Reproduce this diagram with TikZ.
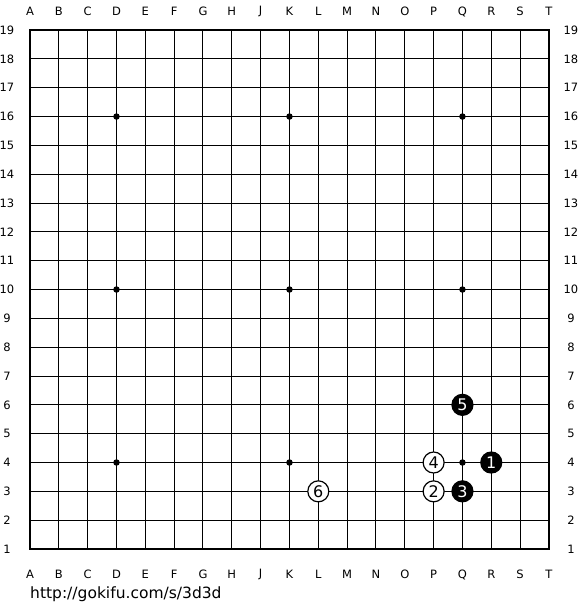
\documentclass[tikz,border=0pt]{standalone}
\usepackage{fontspec}
\setmainfont{DejaVu Sans}
\begin{document}
\begin{tikzpicture}[x=1pt,y=1pt]

\def\sz{28.83}
\tikzstyle{black stone} = [
	circle, draw=black, line width=1.2pt, fill=black, text=white,
	minimum size=21pt, inner sep=0pt, font=\fontsize{16}{16}\selectfont ];
\tikzstyle{white stone} = [black stone, fill=white, text=black];
\tikzstyle{coord} = [inner sep=0pt, font=\fontsize{11.5}{12}\selectfont];
\tikzstyle{hoshi} = [circle, fill=black, minimum size=6.5pt, inner sep=0pt];
\useasboundingbox (0,0) rectangle (580,610);

\begin{scope}[shift={(30,61)}]
% grid
\foreach \i in {1,...,17} {
	\draw[line width=1pt] (\i*\sz,0) -- (\i*\sz,18*\sz);
	\draw[line width=1pt] (0,\i*\sz) -- (18*\sz,\i*\sz);
}
\draw[line width=2.4pt] (0,0) rectangle (18*\sz,18*\sz);

\foreach \x in {3,9,15}
	\foreach \y in {3,9,15}
		\node[hoshi] (h\x\y) at (\x*\sz,\y*\sz) {};

% coordinates
\foreach \l [count=\i from 0] in {A,B,C,D,E,F,G,H,J,K,L,M,N,O,P,Q,R,S,T} {
	\node[coord] (top\l) at (\i*\sz,18*\sz+18.5) {\l};
	\node[coord] (bot\l) at (\i*\sz,-25.5) {\l};
}
\foreach \r in {1,...,19} {
	\node[coord] (left\r) at (-23,\r*\sz-\sz) {\r};
	\node[coord] (right\r) at (18*\sz+22,\r*\sz-\sz) {\r};
}

% moves
\node[black stone] (s1) at (16*\sz,3*\sz) {1};
\node[white stone] (s2) at (14*\sz,2*\sz) {2};
\node[black stone] (s3) at (15*\sz,2*\sz) {3};
\node[white stone] (s4) at (14*\sz,3*\sz) {4};
\node[black stone] (s5) at (15*\sz,5*\sz) {5};
\node[white stone] (s6) at (10*\sz,2*\sz) {6};

\node[anchor=base west, inner sep=0pt, font=\fontsize{15.5}{16}\selectfont] (url) at (0,-50) {http://gokifu.com/s/3d3d};
\end{scope}

\end{tikzpicture}
\end{document}
